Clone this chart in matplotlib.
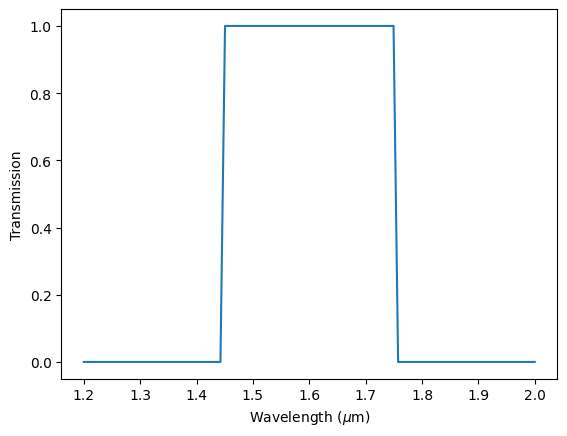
import matplotlib
matplotlib.use("Agg")
import matplotlib.pyplot as plt

wavelength = [1.2, 1.4424, 1.4505, 1.7495, 1.7576, 2.0]
transmission = [0.0, 0.0, 1.0, 1.0, 0.0, 0.0]

fig, ax = plt.subplots(figsize=(6.4, 4.8), dpi=100)
ax.plot(wavelength, transmission)
ax.set_xlabel(r"Wavelength ($\mu$m)")
ax.set_ylabel("Transmission")
fig.savefig("out.png", bbox_inches="tight")
